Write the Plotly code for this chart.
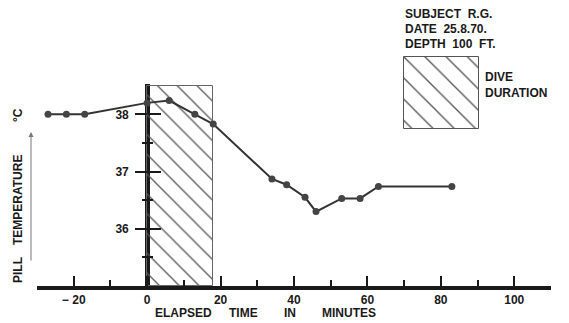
import plotly.graph_objects as go

# ---- data ----
time_min = [-27, -22, -17, 0, 6, 13, 18, 34, 38, 43, 46, 53, 58, 63, 83]
temp_c = [38.0, 38.0, 38.0, 38.2, 38.24, 38.0, 37.83, 36.87, 36.77, 36.55, 36.3, 36.53, 36.53, 36.74, 36.74]
dive_start = [0]
dive_end = [18]
dive_top = [38.5]
x_major_ticks = [-20, 0, 20, 40, 60, 80, 100]
x_major_labels = ["\u2212 20", "0", "20", "40", "60", "80", "100"]
x_minor_ticks = [-30, -10, 10, 30, 50, 70, 90, 110]
y_major_ticks = [36, 37, 38]
y_major_labels = ["36", "37", "38"]
y_minor_ticks = [35.5, 36.5, 37.5]
info_lines = ["SUBJECT  R.G.", "DATE  25.8.70.", "DEPTH  100  FT."]
legend_lines = ["DIVE", "DURATION"]

X_RANGE = [-30, 110]
Y_RANGE = [35, 38.53]
FONT = "Liberation Sans"
INK = "#1a1a1a"

# ---- layout geometry (pixels) ----
W, H = 569, 323
ML, MR, MT, MB = 37, 18, 5, 37
PW, PH = W - ML - MR, H - MT - MB


def px(x):
    return (x - ML) / PW


def py(y):
    return (H - MB - y) / PH


y_top_frac = py(84)
yaxis_pos = (0 - X_RANGE[0]) / (X_RANGE[1] - X_RANGE[0])

fig = go.Figure()

# dive duration hatched box
fig.add_trace(go.Bar(
    x=[(s + e) / 2 for s, e in zip(dive_start, dive_end)],
    width=[e - s for s, e in zip(dive_start, dive_end)],
    y=[t - Y_RANGE[0] for t in dive_top],
    base=[Y_RANGE[0]],
    marker=dict(color="rgba(0,0,0,0)",
                line=dict(color="#666", width=1),
                pattern=dict(shape="\\", size=14, solidity=0.09,
                             fgcolor="#555", fillmode="replace")),
    showlegend=False, hoverinfo="skip",
))

# temperature curve
fig.add_trace(go.Scatter(
    x=time_min, y=temp_c, mode="lines+markers",
    line=dict(color="#333", width=2),
    marker=dict(color="#444", size=7),
    showlegend=False,
))

# legend hatched box
fig.add_trace(go.Bar(
    x=[0.5], y=[1], width=[1], base=[0],
    xaxis="x2", yaxis="y2",
    marker=dict(color="rgba(0,0,0,0)",
                line=dict(color="#555", width=1),
                pattern=dict(shape="\\", size=15, solidity=0.09,
                             fgcolor="#555", fillmode="replace")),
    showlegend=False, hoverinfo="skip",
))

tickfont = dict(family=FONT, size=12, color=INK)

fig.update_layout(
    width=W, height=H,
    margin=dict(l=ML, r=MR, t=MT, b=MB, pad=0),
    paper_bgcolor="white", plot_bgcolor="white",
    bargap=0,
    xaxis=dict(
        range=X_RANGE, domain=[0, 1], anchor="y",
        showgrid=False, showline=True, linewidth=4, linecolor=INK,
        zeroline=True, zerolinewidth=5, zerolinecolor=INK,
        tickmode="array", tickvals=x_major_ticks,
        ticktext=["<b>" + t + "</b>" for t in x_major_labels],
        ticks="inside", ticklen=10, tickwidth=2, tickcolor=INK,
        tickfont=tickfont,
        minor=dict(tickmode="array", tickvals=x_minor_ticks, ticks="inside",
                   ticklen=6, tickwidth=2, tickcolor=INK),
    ),
    yaxis=dict(
        range=Y_RANGE, domain=[0, y_top_frac], anchor="free", position=yaxis_pos,
        showgrid=False, showline=False, zeroline=False,
        tickmode="array", tickvals=y_major_ticks,
        ticktext=["<b>" + t + "</b>" for t in y_major_labels],
        ticks="outside", ticklen=12, tickwidth=2, tickcolor=INK,
        tickfont=tickfont, ticklabelstandoff=4,
        minor=dict(tickmode="array", tickvals=y_minor_ticks, ticks="outside",
                   ticklen=5, tickwidth=2, tickcolor=INK),
    ),
    yaxis3=dict(
        range=Y_RANGE, domain=[0, y_top_frac], anchor="free", position=yaxis_pos,
        overlaying="y",
        showgrid=False, showline=False, zeroline=False, showticklabels=False,
        tickmode="array", tickvals=y_major_ticks,
        ticks="inside", ticklen=13, tickwidth=2, tickcolor=INK,
        minor=dict(tickmode="array", tickvals=y_minor_ticks, ticks="inside",
                   ticklen=5, tickwidth=2, tickcolor=INK),
    ),
    xaxis2=dict(range=[-0.02, 1.02], domain=[px(403), px(480)], anchor="y2",
                visible=False, fixedrange=True),
    yaxis2=dict(range=[-0.02, 1.02], domain=[py(130), py(56)], anchor="x2",
                visible=False, fixedrange=True),
)

# dummy trace so yaxis3 is drawn
fig.add_trace(go.Scatter(x=[None], y=[None], yaxis="y3", showlegend=False,
                         hoverinfo="skip"))

anns = []
lab = dict(family=FONT, size=12, color=INK)

# y-axis title words (rotated)
for word, cy in [("<b>PILL</b>", 270), ("<b>TEMPERATURE</b>", 200), ("<b>°C</b>", 115)]:
    anns.append(dict(text=word, x=px(18), y=py(cy), xref="paper", yref="paper",
                     textangle=-90, showarrow=False, font=lab,
                     xanchor="center", yanchor="middle"))
# arrow beside title
anns.append(dict(text="", x=px(31), y=py(132), xref="paper", yref="paper",
                 showarrow=True, ax=0, ay=130, arrowhead=2, arrowsize=1,
                 arrowwidth=1, arrowcolor="#777"))

# x-axis title words
for word, cx in [("ELAPSED", 183), ("TIME", 243), ("IN", 290), ("MINUTES", 349)]:
    anns.append(dict(text="<b>" + word + "</b>", x=px(cx), y=py(313),
                     xref="paper", yref="paper", showarrow=False, font=lab,
                     xanchor="center", yanchor="middle"))

# info block
for line, cy in zip(info_lines, [14, 29, 44]):
    anns.append(dict(text="<b>" + line + "</b>", x=px(403), y=py(cy),
                     xref="paper", yref="paper", showarrow=False, font=lab,
                     xanchor="left", yanchor="middle"))
for line, cy in zip(legend_lines, [77, 93]):
    anns.append(dict(text="<b>" + line + "</b>", x=px(483), y=py(cy),
                     xref="paper", yref="paper", showarrow=False, font=lab,
                     xanchor="left", yanchor="middle"))

fig.update_layout(annotations=anns)
fig.write_html("out.html")
